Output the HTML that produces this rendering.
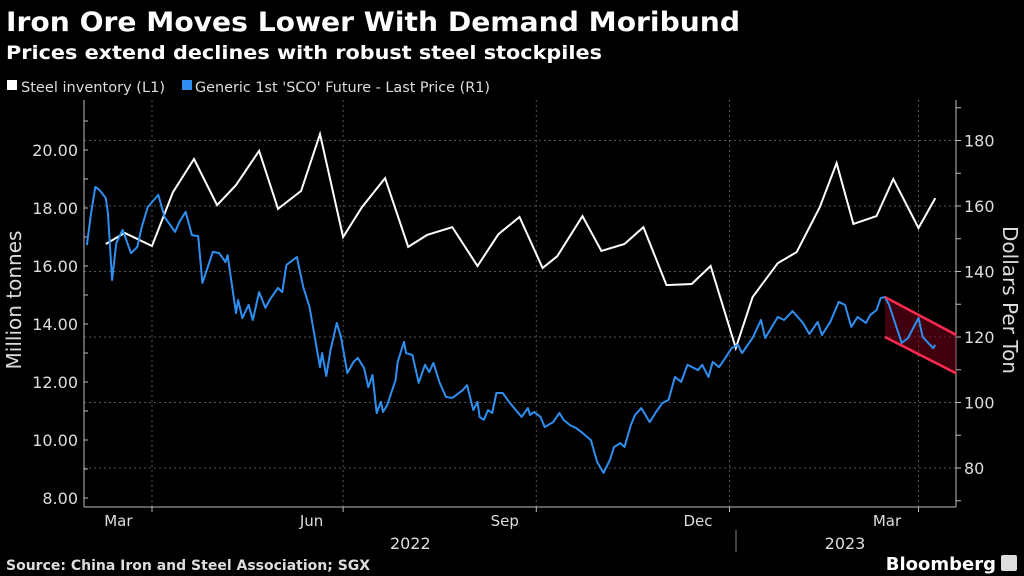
<!DOCTYPE html>
<html><head><meta charset="utf-8"><style>
html,body{margin:0;padding:0;background:#000;}
svg{display:block;font-family:"DejaVu Sans","Liberation Sans",sans-serif;}
</style></head><body>
<svg id="chart" width="1024" height="576" viewBox="0 0 1024 576" xmlns="http://www.w3.org/2000/svg">
<rect width="1024" height="576" fill="#000"/>
<text x="6" y="31" fill="#fff" font-size="27" font-weight="bold" textLength="734" lengthAdjust="spacingAndGlyphs">Iron Ore Moves Lower With Demand Moribund</text>
<text x="6" y="59" fill="#fff" font-size="19" font-weight="bold" textLength="596" lengthAdjust="spacingAndGlyphs">Prices extend declines with robust steel stockpiles</text>
<g>
<rect x="7" y="80" width="10" height="10" fill="#fff"/>
<text x="21" y="92" fill="#ddd" font-size="14" textLength="144" lengthAdjust="spacingAndGlyphs">Steel inventory (L1)</text>
<rect x="182" y="80" width="10" height="10" fill="#2f8ff0"/>
<text x="195" y="92" fill="#ddd" font-size="14" textLength="295" lengthAdjust="spacingAndGlyphs">Generic 1st 'SCO' Future - Last Price (R1)</text>
</g>
<g id="grid"></g><g id="axes"></g><g id="marks"></g>
<text transform="translate(21,300) rotate(-90)" text-anchor="middle" fill="#ddd" font-size="20">Million tonnes</text>
<text transform="translate(1003,300) rotate(90)" text-anchor="middle" fill="#ddd" font-size="20">Dollars Per Ton</text>
<text x="6" y="570" fill="#ddd" font-size="14" font-weight="bold">Source: China Iron and Steel Association; SGX</text>
<text x="996" y="570" text-anchor="end" fill="#fff" font-size="18" font-weight="bold">Bloomberg</text>
<rect x="1001" y="555" width="16" height="16" rx="2" fill="#ddd"/>
</svg>
<script>
// x is day offset from 2022-04-01
const steelDays=[-22,-13,0,10,20,31,40,51,60,71,80,91,100,111,122,131,143,155,165,175,186,193,205,214,225,234,245,257,266,278,286,298,307,318,326,334,345,353,365,373];
const steelValues=[16.76,17.14,16.69,18.55,19.69,18.10,18.79,19.97,17.97,18.59,20.55,17.0,18.03,19.03,16.66,17.07,17.34,16.0,17.10,17.69,15.93,16.34,17.72,16.52,16.76,17.34,15.34,15.38,16.0,13.17,14.93,16.10,16.48,18.03,19.55,17.45,17.72,19.0,17.31,18.34];
const scoDays=[-31,-29,-27,-25,-22,-21,-19,-17,-14,-10,-7,-5,-2,3,6,11,13,16,19,22,24,29,32,35,36,40,41,43,46,48,51,54,56,60,62,64,69,72,75,80,81,83,85,88,90,93,96,98,101,103,105,107,109,110,112,116,117,120,121,124,127,130,132,134,137,140,143,148,150,153,155,156,158,160,162,164,167,170,174,176,179,180,182,185,187,191,194,196,199,202,205,209,212,215,218,220,223,225,228,230,233,237,240,243,246,249,252,255,260,262,265,267,270,273,276,279,281,286,290,292,298,301,305,310,313,317,319,323,327,330,333,336,340,342,345,347,349,351,357,360,365,367,372,373];
const scoValues=[148.1,157.9,165.8,164.9,162.4,157.9,137.4,148.7,152.7,145.6,147.5,153.3,159.7,163.4,156.6,152.1,155.1,158.2,151.1,150.8,136.5,146.0,145.6,142.9,145.0,127.3,131.3,125.8,129.8,125.2,133.7,128.9,131.3,135.0,133.7,142.0,144.4,135.3,129.2,110.8,115.1,108.1,116.0,124.3,120.0,109.0,112.4,113.6,110.5,104.7,108.4,96.8,100.2,97.1,99.2,106.9,112.4,118.5,115.1,114.5,106.0,111.5,109.3,112.1,106.0,101.7,101.4,103.8,105.3,97.7,100.2,95.6,94.7,97.7,96.8,102.9,102.9,100.2,97.1,95.6,98.3,96.2,97.1,95.6,92.5,94.0,96.8,94.7,93.1,92.2,90.7,88.5,81.8,78.5,82.4,86.4,87.6,86.4,93.1,96.2,98.3,94.0,97.1,99.8,100.8,107.8,106.3,111.5,109.9,111.5,107.8,112.4,110.8,113.6,116.6,117.6,115.1,119.7,125.2,119.7,126.1,125.2,127.9,124.3,120.9,124.6,120.6,124.6,130.7,129.8,123.1,126.1,124.3,126.7,128.2,131.9,132.2,129.8,118.2,119.7,125.8,120.0,116.6,117.6];
const channelDays=[349,383];
const channelTop=[132.2,120.6];
const channelBottom=[120.0,108.9];
const leftTicks=[8,10,12,14,16,18,20];
const rightTicks=[80,100,120,140,160,180];
const monthLabels=["Mar","Jun","Sep","Dec","Mar"];
const monthDays=[-16,76,168,260,350];
const gridDays=[0,91,183,275,365];
const yearLabels=["2022","2023"];
const yearDays=[123,330];

const X0=84,X1=956,YT=100,YB=507;
const xs=d=>152+d*2.1;
const yl=v=>150+(20-v)*29;
const yr=v=>337-(v-120)*3.275;
const NS="http://www.w3.org/2000/svg";
function mk(parent,tag,attrs){const e=document.createElementNS(NS,tag);for(const k in attrs)e.setAttribute(k,attrs[k]);document.getElementById(parent).appendChild(e);return e;}

rightTicks.forEach(v=>{
  const g=mk('grid','line',{x1:X0,x2:X1,y1:yr(v),y2:yr(v),stroke:'#555','stroke-dasharray':'2,3','stroke-width':1});
  
  
});
gridDays.forEach(d=>{
  const g=mk('grid','line',{x1:xs(d),x2:xs(d),y1:YT,y2:YB,stroke:'#555','stroke-dasharray':'2,3','stroke-width':1});
  
  
});
let a=mk('axes','line',{x1:X0,x2:X0,y1:YT,y2:YB,stroke:'#bbb'});


a=mk('axes','line',{x1:X1,x2:X1,y1:YT,y2:YB,stroke:'#bbb'});


a=mk('axes','line',{x1:X0,x2:X1,y1:YB,y2:YB,stroke:'#bbb'});


for(let v=8;v<=21;v++){
  const t=mk('axes','line',{x1:X0,x2:X0+4,y1:yl(v),y2:yl(v),stroke:'#bbb'});
  
  
}
leftTicks.forEach(v=>{
  const t=mk('axes','text',{x:78,y:yl(v)+6,'text-anchor':'end',fill:'#ddd','font-size':16});
  t.textContent=v.toFixed(2);
  
  
});
for(let v=70;v<=190;v+=10){
  const t=mk('axes','line',{x1:X1,x2:X1+5,y1:yr(v),y2:yr(v),stroke:'#bbb'});
  
  
}
rightTicks.forEach(v=>{
  const t=mk('axes','text',{x:964,y:yr(v)+6,fill:'#ddd','font-size':16});
  t.textContent=v;
  
  
});
gridDays.forEach(d=>{
  const t=mk('axes','line',{x1:xs(d),x2:xs(d),y1:YB,y2:YB+5,stroke:'#bbb'});
  
  
});
monthLabels.forEach((m,i)=>{
  const t=mk('axes','text',{x:xs(monthDays[i]),y:526,'text-anchor':'middle',fill:'#ddd','font-size':15});
  t.textContent=m;
  
  
});
yearLabels.forEach((m,i)=>{
  const t=mk('axes','text',{x:xs(yearDays[i]),y:549,'text-anchor':'middle',fill:'#ddd','font-size':16});
  t.textContent=m;
  
  
});
a=mk('axes','line',{x1:736,x2:736,y1:530,y2:552,stroke:'#888'});



// channel
const cp=`${xs(channelDays[0])},${yr(channelTop[0])} ${xs(channelDays[1])},${yr(channelTop[1])} ${xs(channelDays[1])},${yr(channelBottom[1])} ${xs(channelDays[0])},${yr(channelBottom[0])}`;
let c=mk('marks','polygon',{points:cp,fill:'rgba(130,0,25,0.5)'});



let p=mk('marks','polyline',{points:steelDays.map((d,i)=>xs(d)+','+yl(steelValues[i])).join(' '),fill:'none',stroke:'#fff','stroke-width':2,'stroke-linejoin':'miter'});


p=mk('marks','polyline',{points:scoDays.map((d,i)=>xs(d)+','+yr(scoValues[i])).join(' '),fill:'none',stroke:'#2f8ff0','stroke-width':2,'stroke-linejoin':'round'});



c=mk('marks','line',{x1:xs(channelDays[0]),y1:yr(channelTop[0]),x2:xs(channelDays[1]),y2:yr(channelTop[1]),stroke:'#ff2a50','stroke-width':2.5});


c=mk('marks','line',{x1:xs(channelDays[0]),y1:yr(channelBottom[0]),x2:xs(channelDays[1]),y2:yr(channelBottom[1]),stroke:'#ff2a50','stroke-width':2.5});


</script>
</body></html>
